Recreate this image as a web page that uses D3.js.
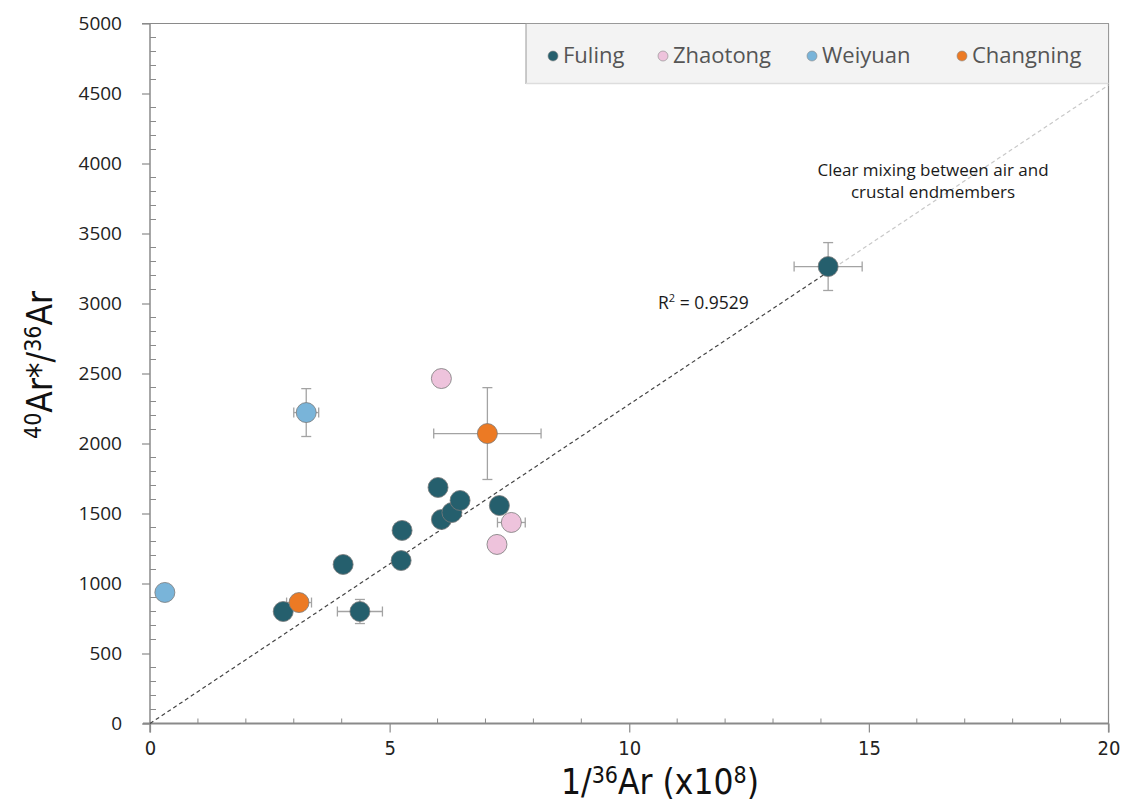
<!DOCTYPE html>
<html><head><meta charset="utf-8">
<script src="https://cdn.jsdelivr.net/npm/d3@7"></script>
<style>
body{margin:0;background:#fff;}
svg{display:block;}
</style></head>
<body><svg id="c" width="1129" height="805"></svg>
<script>
// ---- data ----
const seriesNames = ["Fuling", "Zhaotong", "Weiyuan", "Changning"];
const seriesColors = ["#255f6d", "#eec3dc", "#79b4d9", "#ec7a24"];

const fulingX = [2.78, 4.03, 4.38, 5.24, 5.26, 6.01, 6.08, 6.30, 6.47, 7.29, 14.15];
const fulingY = [800, 1136, 800, 1164, 1379, 1686, 1457, 1507, 1593, 1557, 3264];
const fulingXErr = [0, 0, 0.47, 0, 0, 0, 0, 0, 0, 0, 0.71];
const fulingYErr = [0, 0, 86, 0, 0, 0, 0, 0, 0, 0, 171];

const zhaotongX = [6.08, 7.54, 7.24];
const zhaotongY = [2464, 1436, 1279];
const zhaotongXErr = [0, 0.29, 0];
const zhaotongYErr = [60, 0, 0];

const weiyuanX = [3.26, 0.31];
const weiyuanY = [2221, 936];
const weiyuanXErr = [0.26, 0];
const weiyuanYErr = [171, 0];

const changningX = [7.04, 3.11];
const changningY = [2071, 864];
const changningXErr = [1.12, 0.26];
const changningYErr = [328, 0];

const xTicks = [0, 5, 10, 15, 20];
const yTicks = [0, 500, 1000, 1500, 2000, 2500, 3000, 3500, 4000, 4500, 5000];
const fitSlope = 228;      // regression through origin
const fitSolidEnd = 14.15; // dark part of the line ends here
const rSquared = "0.9529";
const annotationLines = ["Clear mixing between air and", "crustal endmembers"];

// ---- layout ----
const svg = d3.select("#c");
const x = d3.scaleLinear().domain([0, 20]).range([150, 1108.5]);
const y = d3.scaleLinear().domain([0, 5000]).range([723.5, 23.5]);
const axisColor = "#8a8a8a";
const numFont = "'Open Sans', 'Noto Sans', sans-serif";
const condFont = "'Liberation Sans Narrow', 'DejaVu Sans Condensed', sans-serif";

// frame: top and right lines
svg.append("line").attr("x1", 142).attr("x2", x(20)).attr("y1", y(5000)).attr("y2", y(5000))
  .attr("stroke", axisColor).attr("stroke-width", 1.2);
svg.append("line").attr("x1", x(20)).attr("x2", x(20)).attr("y1", y(5000)).attr("y2", y(0) + 9)
  .attr("stroke", axisColor).attr("stroke-width", 1.2);

// y axis (major ticks left, minor ticks right)
const yAxis = d3.axisLeft(y).tickValues(yTicks).tickFormat(d3.format("d")).tickSize(8).tickPadding(20).tickSizeOuter(0);
const gy = svg.append("g").attr("transform", `translate(${x(0)},0)`).call(yAxis);
gy.select(".domain").attr("stroke", axisColor).attr("stroke-width", 1.5).attr("d", `M0,${y(5000)}V${y(0) + 9}`);
gy.selectAll(".tick line").attr("stroke", axisColor).attr("stroke-width", 1.2);
gy.selectAll(".tick text").attr("font-family", numFont).attr("font-size", 19).attr("fill", "#222")
  .attr("text-anchor", "end");
const yMinor = d3.range(100, 5000, 100).filter(v => v % 500 !== 0);
svg.append("g").selectAll("line").data(yMinor).join("line")
  .attr("x1", x(0)).attr("x2", x(0) + 6).attr("y1", d => y(d)).attr("y2", d => y(d))
  .attr("stroke", axisColor).attr("stroke-width", 1);

// x axis (major ticks down, minor ticks up)
const xAxis = d3.axisBottom(x).tickValues(xTicks).tickSize(9).tickPadding(8).tickSizeOuter(0);
const gx = svg.append("g").attr("transform", `translate(0,${y(0)})`).call(xAxis);
gx.select(".domain").attr("stroke", axisColor).attr("stroke-width", 2).attr("d", `M${x(0) - 7},0H${x(20)}`);
gx.selectAll(".tick line").attr("stroke", axisColor).attr("stroke-width", 1.2);
gx.selectAll(".tick text").attr("font-family", condFont).attr("font-size", 20).attr("fill", "#222");
const xMinor = d3.range(1, 20, 1).filter(v => v % 5 !== 0);
svg.append("g").selectAll("line").data(xMinor).join("line")
  .attr("x1", d => x(d)).attr("x2", d => x(d)).attr("y1", y(0)).attr("y2", y(0) - 5)
  .attr("stroke", axisColor).attr("stroke-width", 1);

// regression line
svg.append("line").attr("x1", x(0)).attr("y1", y(0)).attr("x2", x(fitSolidEnd)).attr("y2", y(fitSlope * fitSolidEnd))
  .attr("stroke", "#444").attr("stroke-width", 1.2).attr("stroke-dasharray", "4,3");
svg.append("line").attr("x1", x(fitSolidEnd)).attr("y1", y(fitSlope * fitSolidEnd)).attr("x2", x(20)).attr("y2", y(fitSlope * 20))
  .attr("stroke", "#c8c8c8").attr("stroke-width", 1.2).attr("stroke-dasharray", "4,3");

// legend box
const lg = svg.append("g");
lg.append("rect").attr("x", 526).attr("y", y(5000)).attr("width", x(20) - 526).attr("height", 60)
  .attr("fill", "#f3f3f3").attr("stroke", "#999").attr("stroke-width", 1);
lg.append("line").attr("x1", 526).attr("x2", x(20)).attr("y1", y(5000) + 60).attr("y2", y(5000) + 60)
  .attr("stroke", "#ddd").attr("stroke-width", 1.5);
const legendX = [553, 663, 812, 962];
seriesNames.forEach((n, i) => {
  lg.append("circle").attr("cx", legendX[i]).attr("cy", 56).attr("r", 5)
    .attr("fill", seriesColors[i]).attr("stroke", "#888").attr("stroke-width", 0.6);
  lg.append("text").attr("x", legendX[i] + 10).attr("y", 63).text(n)
    .attr("font-family", numFont).attr("font-size", 22).attr("fill", "#555");
});

// points with error bars
const series = [
  {xs: fulingX, ys: fulingY, xe: fulingXErr, ye: fulingYErr},
  {xs: zhaotongX, ys: zhaotongY, xe: zhaotongXErr, ye: zhaotongYErr},
  {xs: weiyuanX, ys: weiyuanY, xe: weiyuanXErr, ye: weiyuanYErr},
  {xs: changningX, ys: changningY, xe: changningXErr, ye: changningYErr}
];
const errColor = "#a3a3a3";
const cap = 5;
const eg = svg.append("g");
const pg = svg.append("g");
series.forEach((s, si) => {
  s.xs.forEach((xv, i) => {
    const cx = x(xv), cy = y(s.ys[i]);
    if (s.xe[i] > 0) {
      const x1 = x(xv - s.xe[i]), x2 = x(xv + s.xe[i]);
      eg.append("line").attr("x1", x1).attr("x2", x2).attr("y1", cy).attr("y2", cy).attr("stroke", errColor).attr("stroke-width", 1.3);
      eg.append("line").attr("x1", x1).attr("x2", x1).attr("y1", cy - cap).attr("y2", cy + cap).attr("stroke", errColor).attr("stroke-width", 1.3);
      eg.append("line").attr("x1", x2).attr("x2", x2).attr("y1", cy - cap).attr("y2", cy + cap).attr("stroke", errColor).attr("stroke-width", 1.3);
    }
    if (s.ye[i] > 0) {
      const y1 = y(s.ys[i] - s.ye[i]), y2 = y(s.ys[i] + s.ye[i]);
      eg.append("line").attr("x1", cx).attr("x2", cx).attr("y1", y1).attr("y2", y2).attr("stroke", errColor).attr("stroke-width", 1.3);
      eg.append("line").attr("x1", cx - cap).attr("x2", cx + cap).attr("y1", y1).attr("y2", y1).attr("stroke", errColor).attr("stroke-width", 1.3);
      eg.append("line").attr("x1", cx - cap).attr("x2", cx + cap).attr("y1", y2).attr("y2", y2).attr("stroke", errColor).attr("stroke-width", 1.3);
    }
    pg.append("circle").attr("cx", cx).attr("cy", cy).attr("r", 10)
      .attr("fill", seriesColors[si]).attr("stroke", "#7a7a7a").attr("stroke-width", 0.8);
  });
});

// annotations
annotationLines.forEach((t, i) => svg.append("text").attr("x", 933).attr("y", 176 + i * 22)
  .attr("font-family", numFont).attr("font-size", 17).attr("fill", "#1a1a1a").attr("text-anchor", "middle").text(t));
const r2 = svg.append("text").attr("x", 658).attr("y", 309).attr("font-family", numFont).attr("font-size", 17.5).attr("fill", "#1a1a1a");
r2.append("tspan").text("R");
r2.append("tspan").attr("font-size", 11).attr("dy", -7).text("2");
r2.append("tspan").attr("dy", 7).text(" = " + rSquared);

// axis titles
const xt = svg.append("text").attr("x", 660).attr("y", 794).attr("text-anchor", "middle")
  .attr("font-family", condFont).attr("font-size", 35).attr("fill", "#111");
xt.append("tspan").text("1/");
xt.append("tspan").attr("font-size", 23).attr("dy", -11).text("36");
xt.append("tspan").attr("dy", 11).text("Ar (x10");
xt.append("tspan").attr("font-size", 23).attr("dy", -11).text("8");
xt.append("tspan").attr("dy", 11).text(")");

const yt = svg.append("text").attr("transform", "translate(52,365) rotate(-90)").attr("text-anchor", "middle")
  .attr("font-family", condFont).attr("font-size", 35).attr("fill", "#111");
yt.append("tspan").attr("font-size", 23).attr("dy", -11).text("40");
yt.append("tspan").attr("dy", 11).text("Ar*/");
yt.append("tspan").attr("font-size", 23).attr("dy", -11).text("36");
yt.append("tspan").attr("dy", 11).text("Ar");
</script></body></html>
